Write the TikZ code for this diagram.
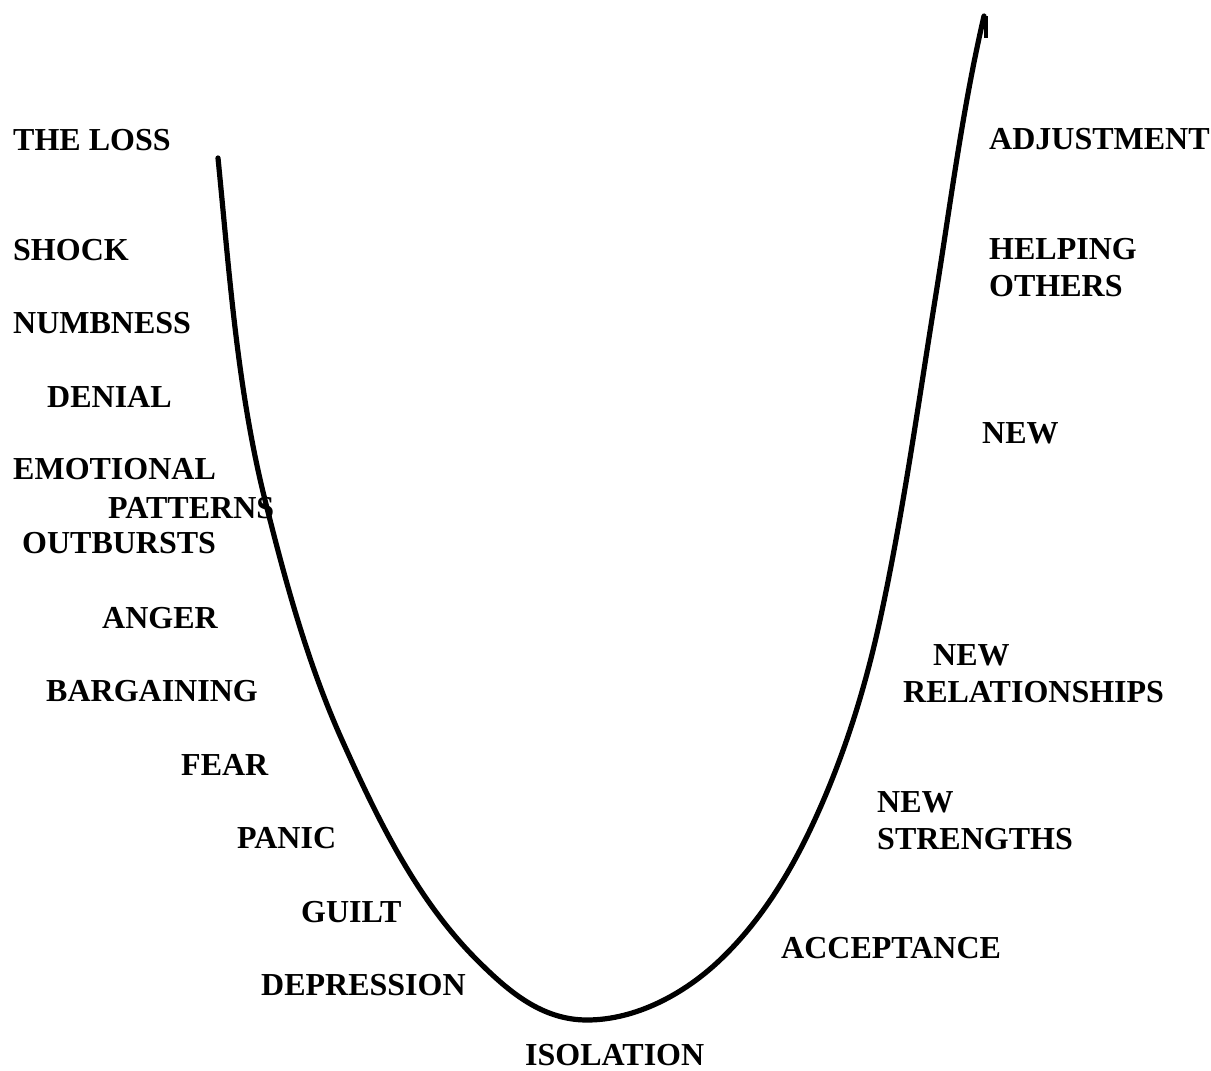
\documentclass[tikz,border=0pt]{standalone}
\usepackage{fontspec}
\setmainfont{Liberation Serif}
\begin{document}
\begin{tikzpicture}[x=1pt,y=-1pt,
  lbl/.style={anchor=base west,inner sep=0pt,font=\fontsize{32}{37}\selectfont\bfseries},
  curveline/.style={line width=5.2pt,line cap=round,line join=round}]
\useasboundingbox[fill=white] (0,0) rectangle (1211,1071);
\coordinate (p0) at (218,158);
\coordinate (p1) at (265,500);
\coordinate (p2) at (342,740);
\coordinate (p3) at (477,960);
\coordinate (p4) at (587,1020);
\coordinate (p5) at (720,960);
\coordinate (p6) at (810,830);
\coordinate (p7) at (880,620);
\coordinate (p8) at (935,300);
\coordinate (p9) at (984,16);
\draw[curveline] (p0)
  .. controls (229.4,272.4) and (237.1,388.4) .. (p1)
  .. controls (285.4,581.5) and (307.6,663.4) .. (p2)
  .. controls (377.3,818.4) and (416.2,899.2) .. (p3)
  .. controls (508.8,991.8) and (542,1020) .. (p4)
  .. controls (636,1020) and (684.5,993.8) .. (p5)
  .. controls (758.4,923.5) and (787.2,877.9) .. (p6)
  .. controls (841.8,763.2) and (864.3,692.3) .. (p7)
  .. controls (902.9,514.5) and (917.8,406.6) .. (p8)
  .. controls (950.3,205.2) and (962.3,109.5) .. (p9);
\draw[line width=4pt] (985.5,16) -- (985.5,38);
% left labels
\node[lbl] (loss) at (13,150) {THE LOSS};
\node[lbl] (shock) at (13,260) {SHOCK};
\node[lbl] (numb) at (13,333) {NUMBNESS};
\node[lbl] (denial) at (47,407) {DENIAL};
\node[lbl] (emo) at (13,479) {EMOTIONAL};
\node[lbl] (patt) at (108,518) {PATTERNS};
\node[lbl] (outb) at (22,553) {OUTBURSTS};
\node[lbl] (anger) at (102,628) {ANGER};
\node[lbl] (barg) at (46,701) {BARGAINING};
\node[lbl] (fear) at (181,775) {FEAR};
\node[lbl] (panic) at (237,848) {PANIC};
\node[lbl] (guilt) at (301,922) {GUILT};
\node[lbl] (depr) at (261,995) {DEPRESSION};
\node[lbl] (isol) at (525,1065) {ISOLATION};
% right labels
\node[lbl] (accept) at (781,958) {ACCEPTANCE};
\node[lbl] (newa) at (877,812) {NEW};
\node[lbl] (stren) at (877,849) {STRENGTHS};
\node[lbl] (newb) at (933,665) {NEW};
\node[lbl] (relat) at (903,702) {RELATIONSHIPS};
\node[lbl] (newc) at (982,443) {NEW};
\node[lbl] (help) at (989,259) {HELPING};
\node[lbl] (others) at (989,296) {OTHERS};
\node[lbl] (adj) at (989,149) {ADJUSTMENT};
\end{tikzpicture}
\end{document}
